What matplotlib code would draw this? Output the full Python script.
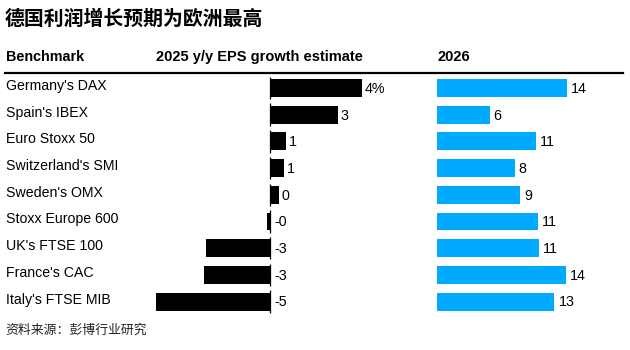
import matplotlib
matplotlib.use("Agg")
import matplotlib.pyplot as plt
from matplotlib.lines import Line2D

# data
benchmarks = ["Germany's DAX", "Spain's IBEX", "Euro Stoxx 50", "Switzerland's SMI",
              "Sweden's OMX", "Stoxx Europe 600", "UK's FTSE 100", "France's CAC",
              "Italy's FTSE MIB"]
eps_2025 = [4.0, 2.95, 0.68, 0.6, 0.38, -0.14, -2.77, -2.85, -4.95]
eps_2026 = [14.0, 5.7, 10.7, 8.4, 9.0, 10.9, 11.0, 13.9, 12.7]

W, H = 630, 350
fig = plt.figure(figsize=(W / 100, H / 100), dpi=100)
fig.patch.set_facecolor("white")

latin = ["Liberation Sans", "DejaVu Sans"]
cjk = ["Noto Sans CJK SC", "DejaVu Sans"]

def fx(px):
    return px / W

def fy(py):
    return 1 - py / H

# geometry in pixels
row0, row_step = 88, 26.7
top_px, bot_px = 75, 315
ylim = ((bot_px - row0) / row_step, (top_px - row0) / row_step)

l_left, l_right, l_zero, l_scale = 150, 380, 270, 23.0
r_left, r_right, r_zero, r_scale = 437, 600, 437, 9.25

axL = fig.add_axes([fx(l_left), fy(bot_px), fx(l_right - l_left), (bot_px - top_px) / H])
axR = fig.add_axes([fx(r_left), fy(bot_px), fx(r_right - r_left), (bot_px - top_px) / H])
axL.set_xlim((l_left - l_zero) / l_scale, (l_right - l_zero) / l_scale)
axR.set_xlim((r_left - r_zero) / r_scale, (r_right - r_zero) / r_scale)
for ax in (axL, axR):
    ax.set_ylim(*ylim)
    ax.axis("off")

ys = list(range(len(benchmarks)))
bh = 0.67
axL.barh(ys, eps_2025, height=bh, color="black")
axR.barh(ys, eps_2026, height=bh, color="#00aaff")

# zero line segments, one per row
axL.vlines([0] * len(ys), [y - 0.42 for y in ys], [y + 0.42 for y in ys],
           color="black", lw=0.9)

# value labels
for i, v in enumerate(eps_2025):
    txt = f"{v:.0f}" + ("%" if i == 0 else "")
    xpos = v + 3 / l_scale if v > 0 else 4 / l_scale
    axL.text(xpos, i + 0.03, txt, ha="left", va="center", fontsize=10.3, family=latin)
for i, v in enumerate(eps_2026):
    axR.text(v + 4 / r_scale, i + 0.03, f"{v:.0f}", ha="left", va="center",
             fontsize=10.3, family=latin)

# row labels
for i, name in enumerate(benchmarks):
    fig.text(fx(6), fy(row0 + row_step * i - 2), name, ha="left", va="center",
             fontsize=10.2, family=latin)

# title, headers, rule, source
fig.text(fx(5), fy(18), "德国利润增长预期为欧洲最高", ha="left", va="center",
         fontsize=14.3, weight="bold", family=cjk)
fig.text(fx(6), fy(57), "Benchmark", ha="left", va="center", fontsize=10.4,
         weight="bold", family=latin)
fig.text(fx(156), fy(57), "2025 y/y EPS growth estimate", ha="left", va="center",
         fontsize=10.5, weight="bold", family=latin)
fig.text(fx(437), fy(57), "2026", ha="left", va="center", fontsize=10.5,
         weight="bold", family=latin)
fig.add_artist(Line2D([fx(5), fx(623)], [fy(73), fy(73)], color="black", lw=1.6))
fig.text(fx(5), fy(330), "资料来源：彭博行业研究", ha="left", va="center",
         fontsize=9.3, color="#222222", family=cjk)

fig.savefig("out.png", dpi=100, facecolor="white")
